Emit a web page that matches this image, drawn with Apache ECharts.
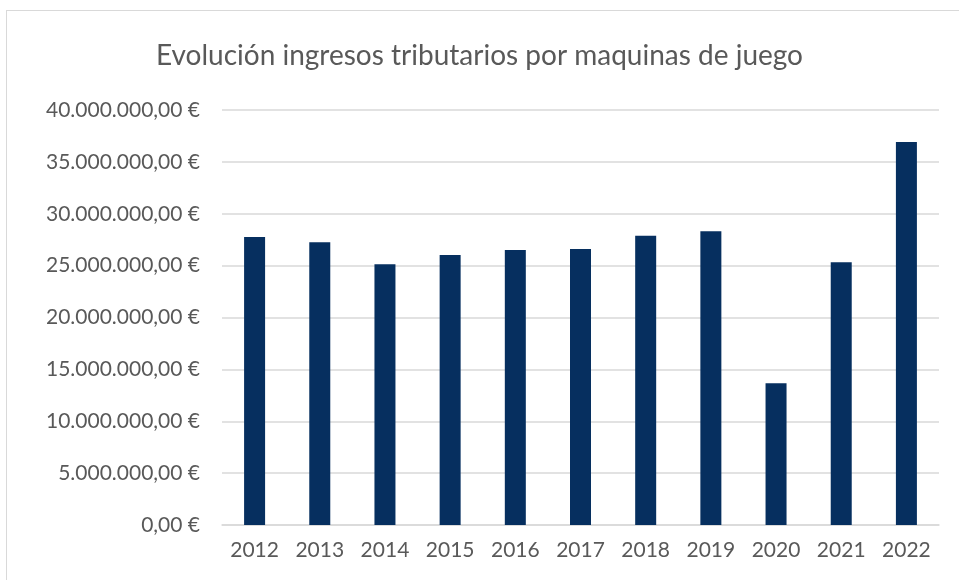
<!DOCTYPE html>
<html>
<head>
<meta charset="utf-8">
<script src="https://cdn.jsdelivr.net/npm/echarts@6/dist/echarts.min.js"></script>
<style>
  html, body { margin: 0; padding: 0; background: #fff; }
  #chart { width: 959px; height: 580px; }
  .frame { position: absolute; left: 6px; top: 10px; width: 960px; height: 600px; border: 1px solid #d9d9d9; pointer-events: none; }
</style>
</head>
<body>
<div class="frame"></div>
<div id="chart"></div>
<script>
const years = ['2012', '2013', '2014', '2015', '2016', '2017', '2018', '2019', '2020', '2021', '2022']
const ingresos = [27760000, 27250000, 25130000, 26020000, 26510000, 26600000, 27880000, 28310000, 13660000, 25320000, 36920000]
const titulo = 'Evolución ingresos tributarios por maquinas de juego'

function euro (v) {
  if (v === 0) return '0,00 €'
  return String(Math.round(v)).replace(/\B(?=(\d{3})+(?!\d))/g, '.') + ',00 €'
}

const chart = echarts.init(document.getElementById('chart'))
const font = 'Lato, "Open Sans", sans-serif'
chart.setOption({
  animation: false,
  title: {
    text: titulo,
    left: 'center',
    top: 37,
    padding: [5, 0, 5, 20],
    textStyle: { fontFamily: font, fontSize: 28, fontWeight: 'normal', color: '#595959' }
  },
  grid: { left: 222, right: 20, top: 110, bottom: 55 },
  xAxis: {
    type: 'category',
    data: years,
    axisLine: { lineStyle: { color: '#d9d9d9', width: 1.5 } },
    axisTick: { show: false },
    axisLabel: { fontFamily: font, fontSize: 21, color: '#595959', margin: 15 }
  },
  yAxis: {
    type: 'value',
    min: 0,
    max: 40000000,
    interval: 5000000,
    axisLine: { show: false },
    axisTick: { show: false },
    splitLine: { lineStyle: { color: '#d9d9d9', width: 1.5 } },
    axisLabel: { fontFamily: font, fontSize: 21, color: '#595959', margin: 22, formatter: euro }
  },
  series: [{
    type: 'bar',
    data: ingresos,
    barWidth: 21,
    itemStyle: { color: '#062f5f' }
  }]
})
</script>
</body>
</html>
